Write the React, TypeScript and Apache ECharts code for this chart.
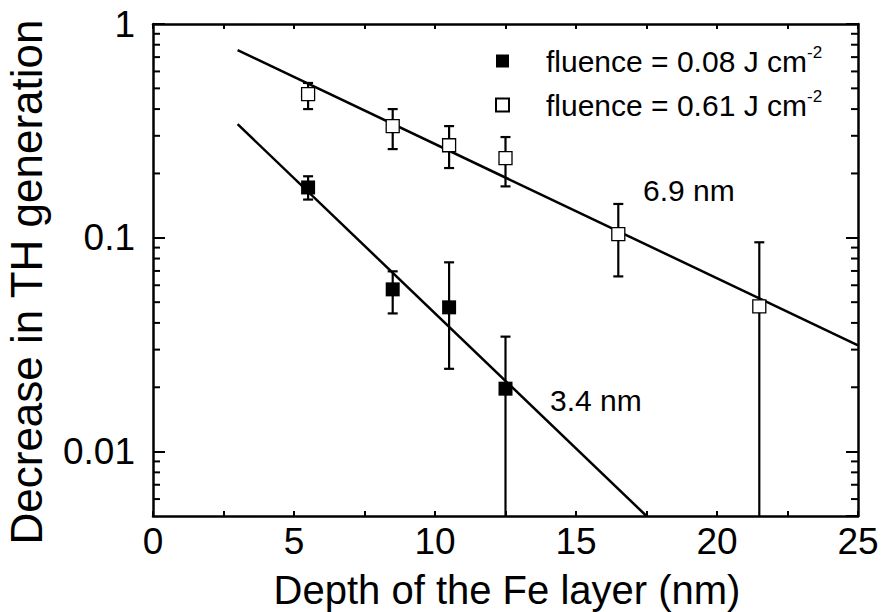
import React, { useEffect, useRef } from "react";
import * as echarts from "echarts";

const FONT = "'Liberation Sans', Arial, Helvetica, sans-serif";

const seriesLowName = "fluence = 0.08 J cm-2";
const seriesHighName = "fluence = 0.61 J cm-2";

const depthLow = [5.5, 8.5, 10.5, 12.5];
const valueLow = [0.172, 0.0574, 0.0473, 0.0197];
const errLowUpper = [0.194, 0.0697, 0.0768, 0.0345];
const errLowLower = [0.151, 0.0443, 0.0244, 0.001];

const depthHigh = [5.5, 8.5, 10.5, 12.5, 16.5, 21.5];
const valueHigh = [0.47, 0.333, 0.271, 0.236, 0.104, 0.0478];
const errHighUpper = [0.53, 0.4, 0.333, 0.296, 0.144, 0.0953];
const errHighLower = [0.4, 0.26, 0.212, 0.174, 0.066, 0.001];

const fitLowX = [3, 17.5];
const fitLowY = [0.34, 0.005];
const fitHighX = [3, 25];
const fitHighY = [0.755, 0.0314];

const yMinorTicks = [
  0.006, 0.007, 0.008, 0.009,
  0.02, 0.03, 0.04, 0.05, 0.06, 0.07, 0.08, 0.09,
  0.2, 0.3, 0.4, 0.5, 0.6, 0.7, 0.8, 0.9,
];

const xTitle = "Depth of the Fe layer (nm)";
const yTitle = "Decrease in TH generation";
const annotHigh = "6.9 nm";
const annotLow = "3.4 nm";

function errorBarRender(params: any, api: any) {
  const x = api.value(0);
  const lo = api.coord([x, api.value(1)]);
  const hi = api.coord([x, api.value(2)]);
  const cap = 5;
  const style = { stroke: "#000", lineWidth: 2.2 };
  return {
    type: "group",
    children: [
      { type: "line", shape: { x1: hi[0], y1: hi[1], x2: lo[0], y2: lo[1] }, style },
      { type: "line", shape: { x1: hi[0] - cap, y1: hi[1], x2: hi[0] + cap, y2: hi[1] }, style },
      { type: "line", shape: { x1: lo[0] - cap, y1: lo[1], x2: lo[0] + cap, y2: lo[1] }, style },
    ],
  };
}

function minorTickRender(params: any, api: any) {
  const cs = params.coordSys;
  const y = api.coord([0, api.value(1)])[1];
  const len = 7;
  const style = { stroke: "#000", lineWidth: 2 };
  return {
    type: "group",
    children: [
      { type: "line", shape: { x1: cs.x, y1: y, x2: cs.x + len, y2: y }, style },
      { type: "line", shape: { x1: cs.x + cs.width - len, y1: y, x2: cs.x + cs.width, y2: y }, style },
    ],
  };
}

function makeOption() {
  const axisLine = { show: true, onZero: false, lineStyle: { color: "#000", width: 2.5 } };
  const xAxisCommon = {
    type: "value",
    min: 0,
    max: 25,
    interval: 5,
    axisLine,
    axisTick: { show: true, inside: true, length: 5, lineStyle: { color: "#000", width: 2 } },
    minorTick: { show: true, splitNumber: 2, length: 5, lineStyle: { color: "#000", width: 2 } },
    splitLine: { show: false },
    minorSplitLine: { show: false },
  };
  const yAxisCommon = {
    type: "log",
    logBase: 10,
    min: 0.005,
    max: 1,
    axisLine,
    axisTick: { show: true, inside: true, length: 12, lineStyle: { color: "#000", width: 2 } },
    splitLine: { show: false },
    minorTick: { show: false },
  };
  return {
    animation: false,
    backgroundColor: "#fff",
    grid: { left: 153, right: 32, top: 24, bottom: 96, containLabel: false },
    xAxis: [
      {
        ...xAxisCommon,
        position: "bottom",
        axisLabel: { show: true, fontSize: 37, color: "#000", fontFamily: FONT, margin: 7 },
      },
      { ...xAxisCommon, position: "top", axisLabel: { show: false } },
    ],
    yAxis: [
      {
        ...yAxisCommon,
        position: "left",
        axisLabel: {
          show: true,
          fontSize: 37,
          color: "#000",
          fontFamily: FONT,
          margin: 18,
          showMinLabel: false,
        },
      },
      { ...yAxisCommon, position: "right", axisLabel: { show: false } },
    ],
    legend: {
      show: true,
      orient: "vertical",
      left: 495,
      top: 44,
      padding: 0,
      itemWidth: 13,
      itemHeight: 13,
      itemGap: 12,
      selectedMode: false,
      data: [seriesLowName, seriesHighName],
      formatter: (name: string) =>
        name === seriesLowName
          ? "{a|fluence = 0.08 J cm}{s|-2}"
          : "{a|fluence = 0.61 J cm}{s|-2}",
      textStyle: {
        color: "#000",
        fontFamily: FONT,
        rich: {
          a: { fontSize: 30, fontFamily: FONT, color: "#000", lineHeight: 34, padding: [0, 0, 0, 32] },
          s: { fontSize: 17, fontFamily: FONT, color: "#000", lineHeight: 17, verticalAlign: "top" },
        },
      },
    },
    series: [
      {
        type: "custom",
        name: "errLow",
        xAxisIndex: 0,
        yAxisIndex: 0,
        clip: true,
        z: 1,
        renderItem: errorBarRender,
        data: depthLow.map((x, i) => [x, errLowLower[i], errLowUpper[i]]),
      },
      {
        type: "custom",
        name: "errHigh",
        xAxisIndex: 0,
        yAxisIndex: 0,
        clip: true,
        z: 1,
        renderItem: errorBarRender,
        data: depthHigh.map((x, i) => [x, errHighLower[i], errHighUpper[i]]),
      },
      {
        type: "custom",
        name: "minorTicks",
        xAxisIndex: 0,
        yAxisIndex: 0,
        z: 1,
        renderItem: minorTickRender,
        data: yMinorTicks.map((v) => [0, v]),
      },
      {
        type: "line",
        name: "fitLow",
        xAxisIndex: 0,
        yAxisIndex: 0,
        symbol: "none",
        z: 2,
        lineStyle: { color: "#000", width: 2.5 },
        data: fitLowX.map((x, i) => [x, fitLowY[i]]),
      },
      {
        type: "line",
        name: "fitHigh",
        xAxisIndex: 0,
        yAxisIndex: 0,
        symbol: "none",
        z: 2,
        lineStyle: { color: "#000", width: 2.5 },
        data: fitHighX.map((x, i) => [x, fitHighY[i]]),
      },
      {
        type: "scatter",
        name: seriesLowName,
        xAxisIndex: 0,
        yAxisIndex: 0,
        symbol: "rect",
        symbolSize: 14,
        z: 3,
        itemStyle: { color: "#000", borderColor: "#000", borderWidth: 0, opacity: 1 },
        data: depthLow.map((x, i) => [x, valueLow[i]]),
      },
      {
        type: "scatter",
        name: seriesHighName,
        xAxisIndex: 0,
        yAxisIndex: 0,
        symbol: "rect",
        symbolSize: 13,
        z: 3,
        itemStyle: { color: "#fff", borderColor: "#000", borderWidth: 1.3, opacity: 1 },
        data: depthHigh.map((x, i) => [x, valueHigh[i]]),
      },
    ],
    graphic: [
      {
        type: "text",
        x: 26,
        y: 282,
        rotation: Math.PI / 2,
        style: { text: yTitle, fontSize: 44, fontFamily: FONT, fill: "#000", align: "center", verticalAlign: "middle" },
      },
      {
        type: "text",
        x: 507,
        y: 590,
        style: { text: xTitle, fontSize: 40, fontFamily: FONT, fill: "#000", align: "center", verticalAlign: "middle" },
      },
      {
        type: "text",
        x: 643,
        y: 190,
        style: { text: annotHigh, fontSize: 30, fontFamily: FONT, fill: "#000", align: "left", verticalAlign: "middle" },
      },
      {
        type: "text",
        x: 550,
        y: 400,
        style: { text: annotLow, fontSize: 30, fontFamily: FONT, fill: "#000", align: "left", verticalAlign: "middle" },
      },
    ],
  };
}

export default function App() {
  const ref = useRef<HTMLDivElement>(null);
  useEffect(() => {
    document.body.style.margin = "0";
    const chart = echarts.init(ref.current!, null, { renderer: "svg" });
    chart.setOption(makeOption() as any);
    return () => chart.dispose();
  }, []);
  return <div ref={ref} style={{ width: 890, height: 612 }} />;
}
